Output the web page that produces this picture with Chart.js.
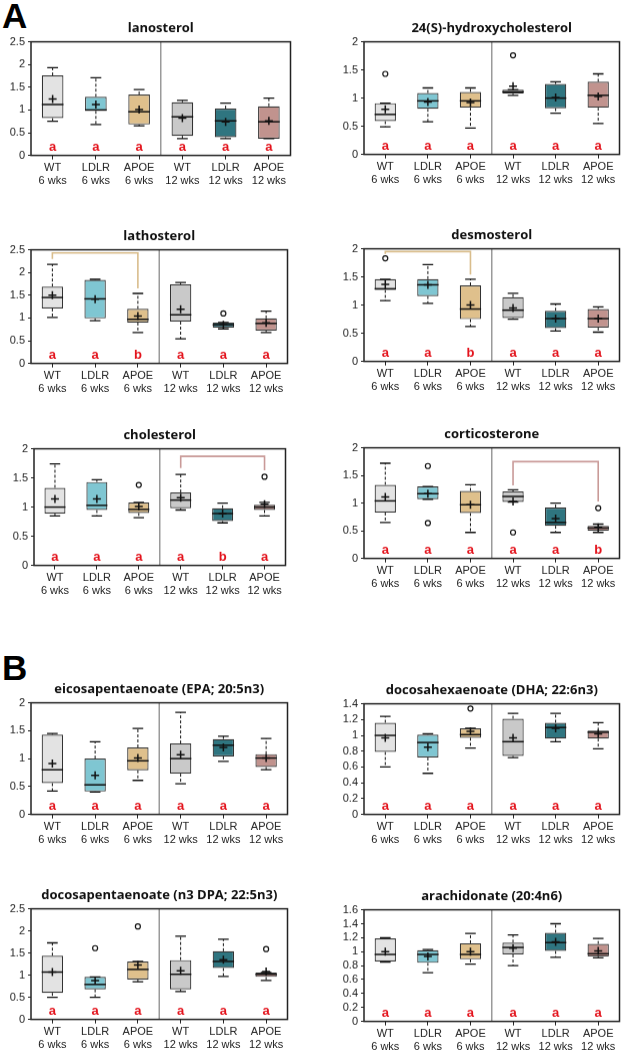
<!DOCTYPE html>
<html lang="en">
<head>
<meta charset="UTF-8">
<title>Brain sterols and fatty acids</title>
<script src="https://cdn.jsdelivr.net/npm/chart.js"></script>
<style>
  body { margin: 0; background: #fff; }
  #page { position: relative; width: 631px; height: 1050px; overflow: hidden; }
  .panel { position: absolute; }
  .tag { position: absolute; font: bold 35px "Liberation Sans", Arial, sans-serif; line-height: 35px; color: #000; }
</style>
</head>
<body>
<div id="page">
  <div class="tag" style="left:2px;top:-2px">A</div>
  <div class="tag" style="left:2px;top:650px">B</div>
</div>
<script>
// groups on the x axis
const groups = ['WT 6 wks', 'LDLR 6 wks', 'APOE 6 wks', 'WT 12 wks', 'LDLR 12 wks', 'APOE 12 wks'];

// box rows: [min, q1, median, q3, max]; outliers: [group, value]
const lanosterolBox = [[0.75, 0.82, 1.12, 1.76, 1.93], [0.68, 0.98, 1.0, 1.29, 1.71], [0.65, 0.68, 0.96, 1.34, 1.45],
  [0.37, 0.43, 0.85, 1.17, 1.21], [0.37, 0.40, 0.76, 1.03, 1.15], [0.37, 0.37, 0.74, 1.08, 1.26]];
const lanosterolMean = [1.24, 1.12, 1.01, 0.82, 0.74, 0.76];
const lanosterolOut = [];
const lanosterolLetters = ['a', 'a', 'a', 'a', 'a', 'a'];

const hydroxyBox = [[0.49, 0.59, 0.71, 0.91, 0.91], [0.58, 0.81, 0.95, 1.09, 1.18], [0.47, 0.83, 0.95, 1.11, 1.18],
  [1.05, 1.08, 1.11, 1.15, 1.15], [0.73, 0.82, 1.0, 1.25, 1.29], [0.55, 0.83, 1.05, 1.29, 1.43]];
const hydroxyMean = [0.80, 0.93, 0.92, 1.21, 1.01, 1.03];
const hydroxyOut = [[0, 1.43], [3, 1.76]];
const hydroxyLetters = ['a', 'a', 'a', 'a', 'a', 'a'];

const lathosterolBox = [[1.01, 1.21, 1.45, 1.69, 2.18], [0.94, 0.99, 1.42, 1.84, 1.85], [0.68, 0.90, 0.97, 1.20, 1.54],
  [0.54, 0.92, 1.07, 1.74, 1.78], [0.76, 0.79, 0.85, 0.90, 0.90], [0.68, 0.72, 0.88, 0.99, 1.15]];
const lathosterolMean = [1.50, 1.41, 1.04, 1.19, 0.85, 0.89];
const lathosterolOut = [[4, 1.10]];
const lathosterolLetters = ['a', 'a', 'b', 'a', 'a', 'a'];
const lathosterolBracket = [0, 2, 2.43, 2.30, 1.65]; // from, to, top, left end, right end

const desmosterolBox = [[1.08, 1.27, 1.29, 1.46, 1.46], [1.03, 1.16, 1.36, 1.46, 1.72], [0.62, 0.75, 0.93, 1.35, 1.46],
  [0.75, 0.77, 0.91, 1.14, 1.21], [0.54, 0.59, 0.76, 0.90, 1.02], [0.52, 0.60, 0.76, 0.93, 0.97]];
const desmosterolMean = [1.37, 1.36, 1.0, 0.95, 0.76, 0.76];
const desmosterolOut = [[0, 1.83]];
const desmosterolLetters = ['a', 'a', 'b', 'a', 'a', 'a'];
const desmosterolBracket = [0, 2, 1.95, 1.91, 1.54];

const cholesterolBox = [[0.85, 0.89, 1.0, 1.33, 1.74], [0.85, 0.95, 1.03, 1.43, 1.47], [0.82, 0.90, 0.96, 1.08, 1.08],
  [0.95, 0.98, 1.12, 1.25, 1.56], [0.73, 0.76, 0.89, 0.98, 1.07], [0.85, 0.95, 1.0, 1.04, 1.08]];
const cholesterolMean = [1.14, 1.14, 1.01, 1.16, 0.89, 1.05];
const cholesterolOut = [[2, 1.38], [5, 1.52]];
const cholesterolLetters = ['a', 'a', 'a', 'a', 'b', 'a'];
const cholesterolBracket = [3, 5, 1.87, 1.67, 1.63];

const corticosteroneBox = [[0.65, 0.83, 1.04, 1.33, 1.72], [1.07, 1.07, 1.17, 1.30, 1.30], [0.47, 0.82, 0.97, 1.22, 1.33],
  [1.02, 1.02, 1.12, 1.21, 1.24], [0.47, 0.59, 0.65, 0.92, 1.0], [0.47, 0.50, 0.55, 0.59, 0.62]];
const corticosteroneMean = [1.11, 1.17, 0.97, 1.03, 0.72, 0.56];
const corticosteroneOut = [[1, 1.67], [1, 0.64], [3, 0.47], [5, 0.91]];
const corticosteroneLetters = ['a', 'a', 'a', 'a', 'a', 'b'];
const corticosteroneBracket = [3, 5, 1.75, 1.32, 1.03];

const epaBox = [[0.42, 0.56, 0.80, 1.43, 1.45], [0.40, 0.41, 0.53, 1.0, 1.30], [0.61, 0.79, 0.96, 1.20, 1.54],
  [0.55, 0.73, 1.0, 1.27, 1.83], [0.95, 1.04, 1.24, 1.35, 1.40], [0.80, 0.85, 1.01, 1.08, 1.36]];
const epaMean = [0.91, 0.70, 1.01, 1.07, 1.20, 1.01];
const epaOut = [];
const epaLetters = ['a', 'a', 'a', 'a', 'a', 'a'];

const dhaBox = [[0.60, 0.79, 1.0, 1.16, 1.24], [0.52, 0.72, 0.91, 1.01, 1.02], [0.84, 0.97, 1.01, 1.09, 1.09],
  [0.72, 0.74, 0.92, 1.21, 1.28], [0.92, 0.96, 1.10, 1.16, 1.28], [0.83, 0.96, 1.04, 1.06, 1.16]];
const dhaMean = [0.97, 0.85, 1.05, 0.97, 1.09, 1.02];
const dhaOut = [[2, 1.34]];
const dhaLetters = ['a', 'a', 'a', 'a', 'a', 'a'];

const dpaBox = [[0.50, 0.60, 1.07, 1.44, 1.73], [0.50, 0.68, 0.79, 0.96, 0.96], [0.85, 0.90, 1.13, 1.31, 1.31],
  [0.63, 0.68, 1.02, 1.34, 1.88], [0.97, 1.16, 1.31, 1.54, 1.81], [0.88, 0.96, 1.02, 1.06, 1.06]];
const dpaMean = [1.07, 0.88, 1.23, 1.10, 1.35, 1.08];
const dpaOut = [[1, 1.61], [2, 2.10], [5, 1.59]];
const dpaLetters = ['a', 'a', 'a', 'a', 'a', 'a'];

const aaBox = [[0.85, 0.86, 0.96, 1.19, 1.20], [0.70, 0.84, 0.96, 1.02, 1.03], [0.82, 0.89, 0.96, 1.12, 1.26],
  [0.80, 0.96, 1.06, 1.13, 1.24], [0.92, 1.01, 1.13, 1.27, 1.40], [0.91, 0.93, 0.97, 1.11, 1.19]];
const aaMean = [1.0, 0.93, 1.0, 1.05, 1.14, 1.01];
const aaOut = [];
const aaLetters = ['a', 'a', 'a', 'a', 'a', 'a'];

// styling
const boxColors = ['#e3e3e3', '#7fc6d2', '#dfc08c', '#c9c9c9', '#2f7580', '#c1938e'];
const tan = '#d9bd8c', rosy = '#c99a98';
const sans = '"Liberation Sans", Arial, sans-serif';

const panels = [
  { title: 'lanosterol', yMax: 2.5, step: 0.5, box: lanosterolBox, mean: lanosterolMean, out: lanosterolOut, letters: lanosterolLetters, rect: [31, 42, 292, 155] },
  { title: '24(S)-hydroxycholesterol', yMax: 2, step: 0.5, box: hydroxyBox, mean: hydroxyMean, out: hydroxyOut, letters: hydroxyLetters, rect: [364, 42, 621, 154] },
  { title: 'lathosterol', yMax: 2.5, step: 0.5, box: lathosterolBox, mean: lathosterolMean, out: lathosterolOut, letters: lathosterolLetters, bracket: lathosterolBracket, bracketColor: tan, rect: [31, 250, 289, 363] },
  { title: 'desmosterol', yMax: 2, step: 0.5, box: desmosterolBox, mean: desmosterolMean, out: desmosterolOut, letters: desmosterolLetters, bracket: desmosterolBracket, bracketColor: tan, rect: [364, 249, 621, 361] },
  { title: 'cholesterol', yMax: 2, step: 0.5, box: cholesterolBox, mean: cholesterolMean, out: cholesterolOut, letters: cholesterolLetters, bracket: cholesterolBracket, bracketColor: rosy, rect: [34, 449, 287, 565] },
  { title: 'corticosterone', yMax: 2, step: 0.5, box: corticosteroneBox, mean: corticosteroneMean, out: corticosteroneOut, letters: corticosteroneLetters, bracket: corticosteroneBracket, bracketColor: rosy, rect: [364, 448, 621, 558] },
  { title: 'eicosapentaenoate (EPA; 20:5n3)', yMax: 2, step: 0.5, box: epaBox, mean: epaMean, out: epaOut, letters: epaLetters, rect: [31, 703, 289, 814] },
  { title: 'docosahexaenoate (DHA; 22:6n3)', yMax: 1.4, step: 0.2, box: dhaBox, mean: dhaMean, out: dhaOut, letters: dhaLetters, rect: [364, 704, 621, 814] },
  { title: 'docosapentaenoate (n3 DPA; 22:5n3)', yMax: 2.5, step: 0.5, box: dpaBox, mean: dpaMean, out: dpaOut, letters: dpaLetters, rect: [31, 909, 289, 1019] },
  { title: 'arachidonate (20:4n6)', yMax: 1.6, step: 0.2, box: aaBox, mean: aaMean, out: aaOut, letters: aaLetters, rect: [364, 910, 621, 1021] }
];

const Y_W = 32, X_H = 36, PAD_R = 4;
const TITLE_PAD = { top: 4, bottom: 6 };
const TITLE_H = 13 * 1.2 + TITLE_PAD.top + TITLE_PAD.bottom;

function extras(p) {
  return {
    id: 'boxExtras',
    afterDatasetDraw(chart, args) {
      if (args.index !== 0) return;
      const { ctx } = chart;
      const y = chart.scales.y;
      const bars = args.meta.data;
      ctx.save();
      ctx.strokeStyle = '#111';
      p.box.forEach((b, i) => {
        const cx = bars[i].x, w = bars[i].width;
        const [mn, q1, md, q3, mx] = b;
        ctx.lineWidth = 1;
        ctx.setLineDash([3, 2]);
        ctx.beginPath();
        if (mx > q3) { ctx.moveTo(cx, y.getPixelForValue(q3)); ctx.lineTo(cx, y.getPixelForValue(mx)); }
        if (mn < q1) { ctx.moveTo(cx, y.getPixelForValue(q1)); ctx.lineTo(cx, y.getPixelForValue(mn)); }
        ctx.stroke();
        ctx.setLineDash([]);
        ctx.lineWidth = 1.3;
        ctx.beginPath();
        [mn, mx].forEach(v => {
          const py = y.getPixelForValue(v);
          ctx.moveTo(cx - w / 4, py); ctx.lineTo(cx + w / 4, py);
        });
        ctx.stroke();
        ctx.lineWidth = 1.5;
        ctx.beginPath();
        const pm = y.getPixelForValue(md);
        ctx.moveTo(cx - w / 2, pm); ctx.lineTo(cx + w / 2, pm);
        ctx.stroke();
      });
      ctx.restore();
    },
    afterDraw(chart) {
      const { ctx, chartArea: a } = chart;
      const x = chart.scales.x, y = chart.scales.y;
      ctx.save();
      // divider between 6 and 12 weeks
      const mid = (x.getPixelForValue(2) + x.getPixelForValue(3)) / 2;
      ctx.strokeStyle = '#9a9a9a';
      ctx.lineWidth = 1.5;
      ctx.beginPath(); ctx.moveTo(mid, a.top); ctx.lineTo(mid, a.bottom); ctx.stroke();
      // significance bracket
      if (p.bracket) {
        const [g1, g2, top, e1, e2] = p.bracket;
        ctx.strokeStyle = p.bracketColor;
        ctx.lineWidth = 1.6;
        ctx.beginPath();
        ctx.moveTo(x.getPixelForValue(g1), y.getPixelForValue(e1));
        ctx.lineTo(x.getPixelForValue(g1), y.getPixelForValue(top));
        ctx.lineTo(x.getPixelForValue(g2), y.getPixelForValue(top));
        ctx.lineTo(x.getPixelForValue(g2), y.getPixelForValue(e2));
        ctx.stroke();
      }
      // letters
      ctx.fillStyle = '#e3121b';
      ctx.font = 'bold 13px ' + sans;
      ctx.textAlign = 'center';
      ctx.textBaseline = 'alphabetic';
      p.letters.forEach((l, i) => ctx.fillText(l, x.getPixelForValue(i), a.bottom - 5));
      // frame
      ctx.strokeStyle = '#222';
      ctx.lineWidth = 1.5;
      ctx.strokeRect(a.left, a.top, a.right - a.left, a.bottom - a.top);
      ctx.restore();
    }
  };
}

const page = document.getElementById('page');
panels.forEach(p => {
  const [L, T, R, B] = p.rect;
  const div = document.createElement('div');
  div.className = 'panel';
  div.style.left = (L - Y_W) + 'px';
  div.style.top = (T - TITLE_H) + 'px';
  div.style.width = (R - L + Y_W + PAD_R) + 'px';
  div.style.height = (TITLE_H + (B - T) + X_H) + 'px';
  const canvas = document.createElement('canvas');
  div.appendChild(canvas);
  page.appendChild(div);

  new Chart(canvas, {
    type: 'bar',
    data: {
      labels: groups,
      datasets: [{
        order: 2,
        data: p.box.map(b => [b[1], b[3]]),
        backgroundColor: boxColors,
        borderColor: '#333',
        borderWidth: 1.2,
        borderSkipped: false,
        barPercentage: 0.5,
        categoryPercentage: 1
      }, {
        type: 'line',
        order: 1,
        data: p.mean,
        showLine: false,
        pointStyle: 'cross',
        pointRadius: 4,
        pointBorderWidth: 1.5,
        pointBorderColor: '#111'
      }, {
        type: 'line',
        order: 1,
        data: p.out.map(o => ({ x: groups[o[0]], y: o[1] })),
        showLine: false,
        pointStyle: 'circle',
        pointRadius: 2.5,
        pointBorderWidth: 1.2,
        pointBorderColor: '#111',
        pointBackgroundColor: '#fff'
      }]
    },
    options: {
      responsive: true,
      maintainAspectRatio: false,
      animation: false,
      layout: { padding: { left: 0, right: PAD_R, top: 0, bottom: 0 } },
      scales: {
        x: {
          offset: true,
          grid: { drawOnChartArea: false, tickLength: 4, offset: false, color: '#222' },
          border: { display: false },
          ticks: {
            color: '#222',
            font: { size: 11, family: sans, lineHeight: 1.15 },
            padding: 2,
            maxRotation: 0,
            autoSkip: false,
            callback: (v, i) => {
              const s = groups[i].indexOf(' ');
              return [groups[i].slice(0, s), groups[i].slice(s + 1)];
            }
          },
          afterFit: s => { s.height = X_H; }
        },
        y: {
          min: 0,
          max: p.yMax,
          ticks: {
            stepSize: p.step,
            autoSkip: false,
            color: '#222',
            font: { size: 11, family: sans },
            padding: 3,
            callback: v => String(+v.toFixed(2))
          },
          grid: { drawOnChartArea: false, tickLength: 3, color: '#222' },
          border: { display: false },
          afterFit: s => { s.width = Y_W; }
        }
      },
      plugins: {
        legend: { display: false },
        tooltip: { enabled: false },
        title: {
          display: true,
          fullSize: false,
          text: p.title,
          color: '#111',
          font: { size: 13, weight: 'bold', family: '"Open Sans", sans-serif' },
          padding: TITLE_PAD
        }
      }
    },
    plugins: [extras(p)]
  });
});
</script>
</body>
</html>
